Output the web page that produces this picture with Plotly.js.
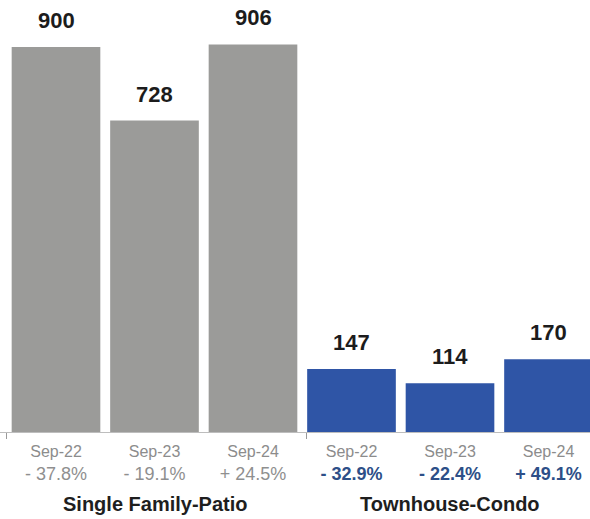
<!DOCTYPE html>
<html>
<head>
<meta charset="utf-8">
<script src="https://cdn.plot.ly/plotly-3.0.1.min.js"></script>
<style>
  html, body { margin: 0; padding: 0; background: #ffffff; }
  #chart { width: 590px; height: 519px; }
</style>
</head>
<body>
<div id="chart"></div>
<script>
// Closed sales by property type, September of each year
const periods = ["Sep-22", "Sep-23", "Sep-24", "Sep-22", "Sep-23", "Sep-24"];
const sales = [900, 728, 906, 147, 114, 170];
const changes = ["- 37.8%", "- 19.1%", "+ 24.5%", "- 32.9%", "- 22.4%", "+ 49.1%"];
const groups = ["Single Family-Patio", "Townhouse-Condo"];
const groupSize = 3;

const GRAY = "#9b9b99";
const BLUE = "#2f55a6";
const PCT_GRAY = "#8f8f8f";
const PCT_BLUE = "#2d4f88";

const idx = periods.map((_, i) => i);
const barColors = idx.map(i => (i < groupSize ? GRAY : BLUE));

const tickText = idx.map(i => {
  const pctColor = i < groupSize ? PCT_GRAY : PCT_BLUE;
  const pct = i < groupSize ? changes[i] : "<b>" + changes[i] + "</b>";
  return "<span style='font-size:16px;color:#8c8c8c'>" + periods[i] + "</span><br>" +
         "<span style='color:" + pctColor + "'>" + pct + "</span>";
});

const trace = {
  type: "bar",
  x: idx,
  y: sales,
  width: 0.9,
  marker: { color: barColors, line: { width: 0 } },
  hoverinfo: "none"
};

const valueLabels = idx.map(i => ({
  x: i, y: sales[i], xref: "x", yref: "y",
  text: String(sales[i]),
  showarrow: false, yanchor: "bottom", yshift: 12,
  font: { family: "Liberation Sans, Arial, sans-serif", size: 22, color: "#1c1c1c", weight: "bold" }
}));

const groupLabels = groups.map((g, k) => ({
  x: k * groupSize + (groupSize - 1) / 2, y: -0.166, xref: "x", yref: "paper",
  text: "<b>" + g + "</b>",
  showarrow: false, yanchor: "middle",
  font: { family: "Liberation Sans, Arial, sans-serif", size: 20, color: "#1e1e1e" }
}));

const layout = {
  width: 590, height: 519,
  margin: { l: 0, r: 0, t: 0, b: 87 },
  paper_bgcolor: "#ffffff",
  plot_bgcolor: "#ffffff",
  showlegend: false,
  xaxis: {
    range: [-0.5685, 5.4213],
    tickmode: "array",
    tickvals: idx,
    ticktext: tickText,
    ticks: "",
    ticklabelstandoff: 2,
    tickfont: { family: "Liberation Sans, Arial, sans-serif", size: 18, color: PCT_GRAY },
    showgrid: false, zeroline: false,
    showline: true, linecolor: "#bdbdbd", linewidth: 1,
    minor: { tickmode: "array", tickvals: [-0.5, groupSize - 0.46], ticks: "outside", ticklen: 6, tickcolor: "#9a9a9a", tickwidth: 1, showgrid: false },
    fixedrange: true
  },
  yaxis: {
    range: [0, 1010],
    visible: false,
    fixedrange: true
  },
  annotations: valueLabels.concat(groupLabels)
};

Plotly.newPlot("chart", [trace], layout, { displayModeBar: false, staticPlot: true });
</script>
</body>
</html>
